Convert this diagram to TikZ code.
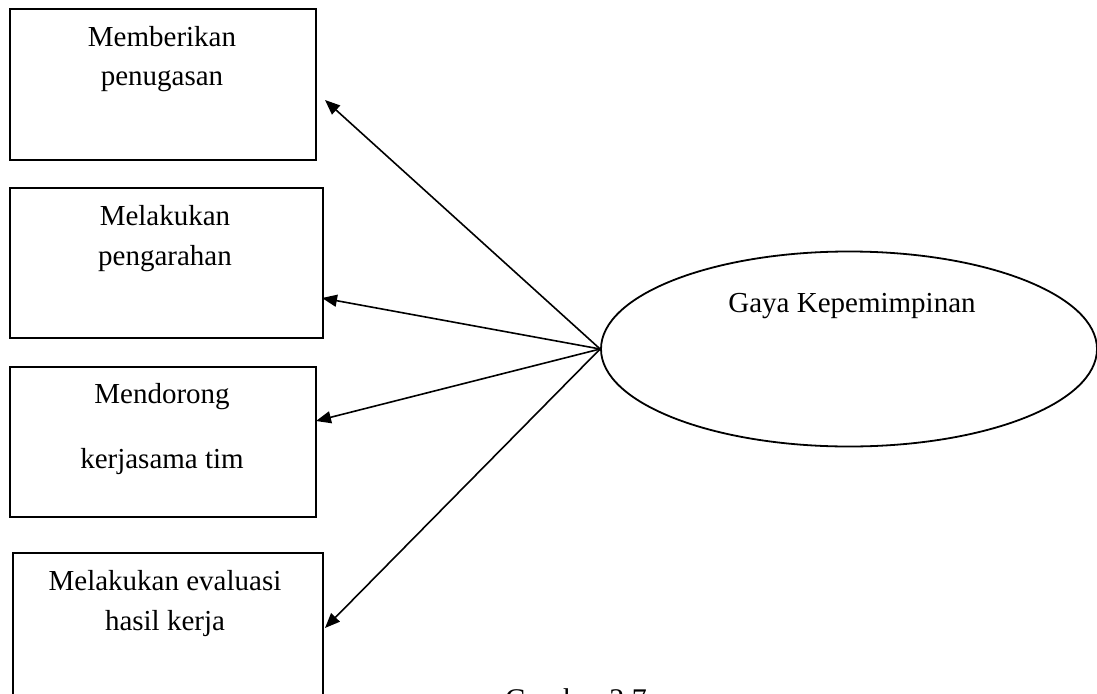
\documentclass[tikz,border=0pt]{standalone}
\usepackage{fontspec}
\setmainfont{Liberation Serif}
\usetikzlibrary{shapes.geometric,arrows.meta}
\begin{document}
\begin{tikzpicture}[x=1pt,y=-1pt,
  box/.style={draw,line width=2pt,inner sep=0pt,anchor=north west},
  lbl/.style={anchor=base,inner sep=0pt,font=\fontsize{29}{35}\selectfont},
  conn/.style={line width=1.6pt,-{Triangle[length=15pt,width=12pt]}}]
\useasboundingbox (0,0) rectangle (1097,693);
\clip (0,0) rectangle (1097,693);
% boxes
\node[box,minimum width=306pt,minimum height=151pt] (b1) at (9,8) {};
\node[box,minimum width=313pt,minimum height=150pt] (b2) at (9,187) {};
\node[box,minimum width=306pt,minimum height=150pt] (b3) at (9,366) {};
\node[box,minimum width=310pt,minimum height=170pt] (b4) at (12,552) {};
% labels
\node[lbl] (t1a) at (162,47) {Memberikan};
\node[lbl] (t1b) at (162,85) {penugasan};
\node[lbl] (t2a) at (165,225) {Melakukan};
\node[lbl] (t2b) at (165,265) {pengarahan};
\node[lbl] (t3a) at (162,403) {Mendorong};
\node[lbl] (t3b) at (162,468) {kerjasama tim};
\node[lbl] (t4a) at (165,590) {Melakukan evaluasi};
\node[lbl] (t4b) at (165,630) {hasil kerja};
% ellipse
\node[draw,ellipse,line width=1.8pt,inner sep=0pt,minimum width=496pt,minimum height=195pt] (e) at (849,349) {};
\node[lbl] (te) at (852,312) {Gaya Kepemimpinan};
% arrow ends
\coordinate (a1) at (325,100);
\coordinate (a2) at (322,298);
\coordinate (a3) at (316,421);
\coordinate (a4) at (325,628);
\draw[conn] (e.west) -- (a1);
\draw[conn] (e.west) -- (a2);
\draw[conn] (e.west) -- (a3);
\draw[conn] (e.west) -- (a4);
% caption (cut off)
\node[lbl,font=\fontsize{30}{36}\selectfont] (cap) at (576,709) {Gambar 2.7};
\end{tikzpicture}
\end{document}
